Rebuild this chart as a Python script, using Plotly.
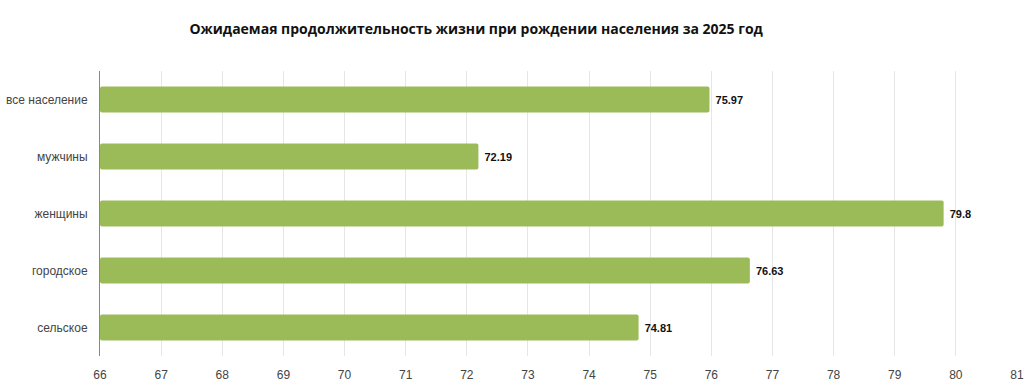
import plotly.graph_objects as go

categories = ["все население", "мужчины", "женщины", "городское", "сельское"]
values = [75.97, 72.19, 79.8, 76.63, 74.81]
x_ticks = list(range(66, 82))
title_text = "Ожидаемая продолжительность жизни при рождении населения за 2025 год"
base_value = 66

fig = go.Figure(go.Bar(
    y=categories,
    x=[v - base_value for v in values],
    orientation="h",
    base=base_value,
    marker=dict(color="#9bbb59", cornerradius=2, line=dict(width=0)),
    width=0.46,
    text=["\u00a0" + f"{v:g}" for v in values],
    textposition="outside",
    textfont=dict(family="Liberation Sans", size=11, color="#111111", weight="bold"),
    cliponaxis=False,
))

fig.update_layout(
    width=1024, height=384,
    margin=dict(l=100, r=7, t=71, b=28),
    paper_bgcolor="white", plot_bgcolor="white",
    title=dict(text=title_text, x=0.465, xanchor="center", y=0.925, yanchor="middle",
               font=dict(family="Open Sans", size=14, color="#111111", weight="bold")),
    showlegend=False,
)
fig.update_xaxes(
    range=[66, 81], tickvals=x_ticks, ticktext=[str(t) for t in x_ticks],
    showgrid=True, gridcolor="#e6e6e6", gridwidth=1, zeroline=False,
    tickfont=dict(family="Liberation Sans", size=12, color="#444444"),
    ticklabelstandoff=10, automargin=False,
)
fig.update_yaxes(
    autorange="reversed", showline=True, linecolor="#888888", linewidth=1,
    showgrid=False,
    tickfont=dict(family="Liberation Sans", size=12, color="#444444"),
    ticklabelstandoff=9, automargin=False,
)
fig.write_html("out.html")
